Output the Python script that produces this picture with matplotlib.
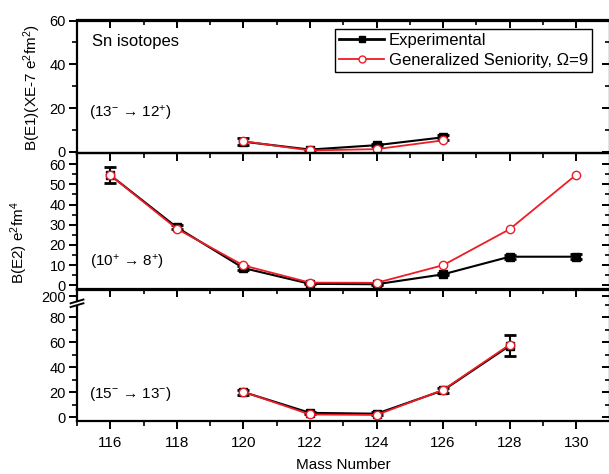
import matplotlib
matplotlib.use("Agg")
import matplotlib.pyplot as plt
from matplotlib.ticker import MultipleLocator, FixedLocator, NullFormatter
from matplotlib.lines import Line2D
import matplotlib.transforms as mtransforms

plt.rcParams['font.family'] = ['Liberation Sans', 'DejaVu Sans']
plt.rcParams['mathtext.fontset'] = 'custom'
plt.rcParams['mathtext.rm'] = 'Liberation Sans'
plt.rcParams['mathtext.it'] = 'Liberation Sans:italic'
plt.rcParams['mathtext.bf'] = 'Liberation Sans:bold'

# ---------------- data ----------------
# Panel 1: B(E1) 13- -> 12+
e1_mass = [120, 122, 124, 126]
e1_exp = [4.6, 1.0, 3.0, 6.6]
e1_err = [1.5, 0.3, 0.5, 1.0]
e1_gs = [4.8, 0.6, 1.2, 5.2]

# Panel 2: B(E2) 10+ -> 8+
e2a_mass = [116, 118, 120, 122, 124, 126, 128, 130]
e2a_exp = [54.5, 28.7, 8.6, 0.8, 0.6, 5.5, 14.2, 14.2]
e2a_err = [4.0, 1.0, 1.0, 0.3, 0.3, 0.5, 1.0, 1.2]
e2a_gs = [54.5, 28.0, 9.9, 1.4, 1.3, 10.0, 27.8, 54.7]

# Panel 3: B(E2) 15- -> 13-
e2b_mass = [120, 122, 124, 126, 128]
e2b_exp = [20.3, 3.7, 3.0, 21.6, 57.2]
e2b_err = [2.0, 1.0, 1.0, 2.0, 8.4]
e2b_gs = [20.5, 2.4, 2.0, 22.0, 58.0]

x_ticks = [116, 118, 120, 122, 124, 126, 128, 130]
bottom_yticks = [0, 20, 40, 60, 80, 96.8]
bottom_yticklabels = ['0', '20', '40', '60', '80', '200']

# ---------------- figure ----------------
W, H = 609, 474
fig = plt.figure(figsize=(W / 100, H / 100), dpi=100)

left = 77 / W
right = 609.5 / W
def yf(py):
    return 1 - py / H

bounds = [(20.5, 153.5), (153.5, 289.5), (289.5, 420.5)]
axes = []
for (t, b) in bounds:
    ax = fig.add_axes([left, yf(b), right - left, yf(t) - yf(b)])
    axes.append(ax)

ax1, ax2, ax3 = axes
lw_sp = 1.6
RED = '#ee1c25'

def style(ax, bottom_labels):
    for s in ax.spines.values():
        s.set_linewidth(lw_sp)
    ax.set_xlim(115, 131)
    ax.xaxis.set_major_locator(FixedLocator(x_ticks))
    ax.xaxis.set_minor_locator(MultipleLocator(1))
    ax.tick_params(axis='y', which='major', direction='out', length=6, width=1.4, labelsize=10.5, pad=2)
    ax.tick_params(axis='y', which='minor', direction='out', length=3.5, width=1.2)
    ax.tick_params(axis='y', right=False)
    if bottom_labels:
        ax.tick_params(axis='x', which='major', direction='out', length=6, width=1.4, labelsize=11, pad=5)
        ax.tick_params(axis='x', which='minor', direction='out', length=3.5, width=1.2)
    else:
        ax.tick_params(axis='x', which='both', bottom=False, labelbottom=False)
    ax.tick_params(axis='x', top=False)
    sx = ax.secondary_xaxis('top')
    sx.xaxis.set_major_locator(FixedLocator(x_ticks))
    sx.xaxis.set_minor_locator(MultipleLocator(1))
    sx.xaxis.set_major_formatter(NullFormatter())
    sx.tick_params(axis='x', which='major', direction='in', length=6, width=1.4)
    sx.tick_params(axis='x', which='minor', direction='in', length=3.5, width=1.2)
    sx.spines['top'].set_linewidth(lw_sp)
    return sx

def right_ticks(ax, major, minor):
    sy = ax.secondary_yaxis('right')
    sy.yaxis.set_major_locator(FixedLocator(major))
    sy.yaxis.set_minor_locator(FixedLocator(minor))
    sy.yaxis.set_major_formatter(NullFormatter())
    sy.tick_params(axis='y', which='major', direction='in', length=6, width=1.4)
    sy.tick_params(axis='y', which='minor', direction='in', length=3.5, width=1.2)

def plot_panel(ax, m, exp, err, gs):
    ax.errorbar(m, exp, yerr=err, color='black', lw=1.5, marker='s', ms=6,
                mfc='black', mec='black', capsize=4, capthick=2, elinewidth=1.5, zorder=3)
    ax.plot(m, gs, color=RED, lw=1.3, marker='o', ms=6, mfc='white',
            mec=RED, mew=1.0, zorder=4)

# Panel 1
style(ax1, False)
ax1.set_ylim(-0.8, 60)
ax1.yaxis.set_major_locator(FixedLocator([0, 20, 40, 60]))
ax1.yaxis.set_minor_locator(FixedLocator([10, 30, 50]))
right_ticks(ax1, [0, 20, 40, 60], [10, 30, 50])
plot_panel(ax1, e1_mass, e1_exp, e1_err, e1_gs)
ax1.text(0.028, 0.84, 'Sn isotopes', transform=ax1.transAxes, fontsize=12, va='center', ha='left')
ax1.text(0.022, 0.30, r'(13$^{-}$ → 12$^{+}$)', transform=ax1.transAxes, fontsize=11, va='center', ha='left')
leg_exp = Line2D([], [], color='black', lw=2, marker='s', ms=4)
leg_gs = Line2D([], [], color=RED, lw=1.3, marker='o', ms=5, mfc='white', mec=RED)
leg = ax1.legend([leg_exp, leg_gs], ['Experimental', 'Generalized Seniority, Ω=9'],
                 loc='upper right', bbox_to_anchor=(0.968, 0.935), fontsize=12,
                 frameon=True, fancybox=False, edgecolor='black', framealpha=1,
                 handlelength=2.7, handletextpad=0.3, borderpad=0.25, labelspacing=0.3,
                 borderaxespad=0)
leg.get_frame().set_linewidth(1.0)

# Panel 2
style(ax2, False)
ax2.set_ylim(-2, 65.2)
ax2.yaxis.set_major_locator(FixedLocator([0, 10, 20, 30, 40, 50, 60]))
ax2.yaxis.set_minor_locator(FixedLocator([5, 15, 25, 35, 45, 55]))
right_ticks(ax2, [0, 10, 20, 30, 40, 50, 60], [5, 15, 25, 35, 45, 55])
plot_panel(ax2, e2a_mass, e2a_exp, e2a_err, e2a_gs)
ax2.text(0.025, 0.20, r'(10$^{+}$ → 8$^{+}$)', transform=ax2.transAxes, fontsize=11, va='center', ha='left')

# Panel 3
style(ax3, True)
ax3.set_ylim(-2.4, 102)
ax3.yaxis.set_major_locator(FixedLocator(bottom_yticks))
ax3.set_yticklabels(bottom_yticklabels)
ax3.yaxis.set_minor_locator(FixedLocator([10, 30, 50, 70]))
right_ticks(ax3, bottom_yticks, [10, 30, 50, 70, 90])
plot_panel(ax3, e2b_mass, e2b_exp, e2b_err, e2b_gs)
ax3.text(0.022, 0.205, r'(15$^{-}$ → 13$^{-}$)', transform=ax3.transAxes, fontsize=11, va='center', ha='left')
ax3.set_xlabel('Mass Number', fontsize=11, labelpad=6)

# axis break marks on left spine of bottom panel
tr = mtransforms.blended_transform_factory(ax3.transAxes, ax3.transData)
dx = 0.012
ax3.fill([-dx * 0.6, dx * 0.6, dx * 0.6, -dx * 0.6], [89.2, 90.9, 92.6, 90.9], color='white',
         transform=tr, clip_on=False, zorder=5)
for yb in (89.5, 92.5):
    ax3.plot([-dx, dx], [yb - 1.5, yb + 1.5], color='black', lw=1.4, transform=tr,
             clip_on=False, zorder=6)

# y labels
fig.text(32 / W, yf(88), r'B(E1)(XE-7 e$^{2}$fm$^{2}$)', rotation=90, ha='center', va='center', fontsize=11)
fig.text(19 / W, yf(243), r'B(E2) e$^{2}$fm$^{4}$', rotation=90, ha='center', va='center', fontsize=11)

fig.savefig('out.png', dpi=100)
